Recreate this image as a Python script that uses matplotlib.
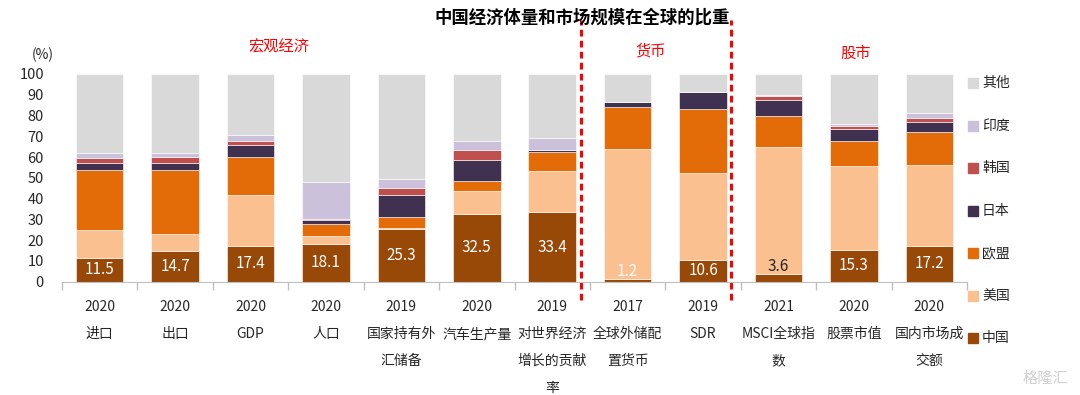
import numpy as np
import matplotlib
matplotlib.use('Agg')
import matplotlib.pyplot as plt
from matplotlib.patches import Rectangle

plt.rcParams['font.family'] = ['Noto Sans CJK SC', 'DejaVu Sans']

# data (%)
years = ['2020', '2020', '2020', '2020', '2019', '2020', '2019', '2017', '2019', '2021', '2020', '2020']
names = ['进口', '出口', 'GDP', '人口', '国家持有外\n汇储备', '汽车生产量',
         '对世界经济\n增长的贡献\n率', '全球外储配\n置货币', 'SDR', 'MSCI全球指\n数',
         '股票市值', '国内市场成\n交额']

china = [11.5, 14.7, 17.4, 18.1, 25.3, 32.5, 33.4, 1.2, 10.6, 3.6, 15.3, 17.2]
usa = [13.4, 8.1, 24.5, 4.1, 0.4, 11.2, 19.9, 62.7, 41.7, 61.3, 40.4, 38.8]
eu = [28.9, 31.0, 18.0, 5.7, 5.6, 4.6, 9.3, 20.1, 30.9, 14.9, 12.0, 16.1]
japan = [3.5, 3.5, 5.9, 1.6, 10.3, 10.3, 0.8, 2.4, 8.3, 7.8, 5.8, 4.8]
korea = [2.4, 2.7, 1.9, 0.5, 3.5, 4.8, 0.2, 0.0, 0.0, 1.8, 1.3, 2.1]
india = [2.1, 1.8, 2.9, 18.0, 4.2, 4.2, 5.6, 0.0, 0.0, 0.6, 1.1, 2.4]
other = [38.2, 38.2, 29.4, 52.0, 50.7, 32.4, 30.8, 13.6, 8.5, 10.0, 24.1, 18.6]

series = ['中国', '美国', '欧盟', '日本', '韩国', '印度', '其他']
colors = ['#984807', '#FAC090', '#E36C09', '#403151', '#C0504D', '#CCC1DA', '#D9D9D9']
values = [china, usa, eu, japan, korea, india, other]

sections = ['宏观经济', '货币', '股市']

label_colors = ['white'] * 9 + ['#262626'] + ['white'] * 2
txt = '#262626'

fig = plt.figure(figsize=(10.8, 3.95), dpi=100)
ax = fig.add_axes([0.0574, 0.2868, 0.8380, 0.5259])

x = np.arange(len(china))
bottom = np.zeros(len(china))
for vals, col in zip(values, colors):
    ax.bar(x, vals, 0.63, bottom=bottom, color=col, edgecolor='white', linewidth=0.4)
    bottom += np.array(vals)

# value labels on China segment
for i, v in enumerate(china):
    y = v / 2 if v > 8 else v + 3.5
    ax.text(i, y, f'{v:.1f}', ha='center', va='center', fontsize=11,
            color=label_colors[i])

ax.set_xlim(-0.5, len(china) - 0.5)
ax.set_ylim(0, 100)
ax.set_yticks(range(0, 101, 10))
ax.tick_params(axis='y', length=0, pad=13, labelsize=10.5, labelcolor=txt)
for s in ['top', 'right', 'left']:
    ax.spines[s].set_visible(False)
ax.spines['bottom'].set_color('#BFBFBF')
ax.set_xticks([])
ax.set_xticks(np.arange(-0.5, len(china)), minor=True)
ax.tick_params(axis='x', which='minor', length=6, color='#BFBFBF', width=1)

# category labels
for i in range(len(china)):
    lines = [years[i]] + names[i].split('\n')
    for k, ln in enumerate(lines):
        ax.annotate(ln, xy=(i, 0), xycoords=('data', 'axes fraction'),
                    xytext=(0, -18.2 - 19.4 * k), textcoords='offset points',
                    ha='center', va='center', fontsize=10, color=txt)

# divider lines
for xd in [6.38, 8.37]:
    ax.plot([xd, xd], [-8.8, 126], color='#FF0000', lw=2.2,
            dashes=(2.2, 1.4), clip_on=False)

ax.text(-0.75, 109, '(%)', ha='center', va='center', fontsize=10, color=txt)

# section labels
fig.text(279 / 1080, 1 - 47 / 395, sections[0], ha='center', va='center',
         fontsize=11, color='#FF0000')
fig.text(651 / 1080, 1 - 51 / 395, sections[1], ha='center', va='center',
         fontsize=11, color='#FF0000')
fig.text(856 / 1080, 1 - 53 / 395, sections[2], ha='center', va='center',
         fontsize=11, color='#FF0000')

fig.text(582 / 1080, 1 - 18 / 395, '中国经济体量和市场规模在全球的比重',
         ha='center', va='center', fontsize=12.5, fontweight='bold', color='black')

# legend
for k, (name, col) in enumerate(zip(series[::-1], colors[::-1])):
    yp = 83.3 + 42.5 * k
    fig.add_artist(Rectangle((968 / 1080, 1 - (yp + 5) / 395), 10 / 1080, 10 / 395,
                             transform=fig.transFigure, color=col))
    fig.text(982 / 1080, 1 - yp / 395, name, ha='left', va='center',
             fontsize=10, color=txt)

fig.text(1045 / 1080, 1 - 378 / 395, '格隆汇', ha='center', va='center',
         fontsize=11, color='#CFCFCF')

fig.savefig('out.png', dpi=100)
